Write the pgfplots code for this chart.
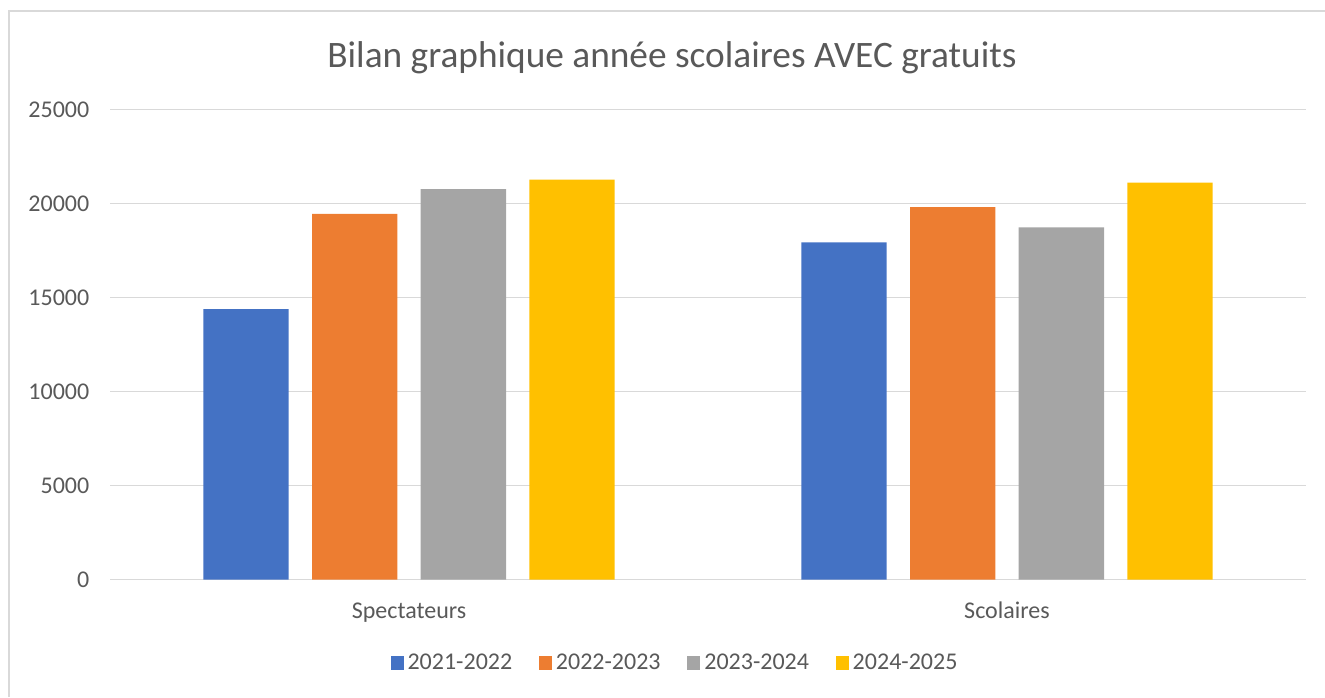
\documentclass[border=0pt]{standalone}
\usepackage{pgfplots}
\pgfplotsset{compat=1.18}
\usepackage{fontspec}
\setmainfont{Carlito}
\definecolor{cblue}{HTML}{4472C4}
\definecolor{corange}{HTML}{ED7D31}
\definecolor{cgray}{HTML}{A5A5A5}
\definecolor{cyellow}{HTML}{FFC000}
\definecolor{ctext}{HTML}{595959}
\definecolor{cgrid}{HTML}{D9D9D9}
\begin{document}
\begin{tikzpicture}
\path[use as bounding box] (0,0) rectangle (993.75pt,522.75pt);
\draw[cgrid, line width=1.1pt] (6.75pt,0pt) -- (6.75pt,514.5pt) -- (993.75pt,514.5pt);
\begin{axis}[
  at={(82.5pt,88.125pt)}, anchor=south west,
  scale only axis, width=897pt, height=352.5pt,
  xmin=-0.5, xmax=1.5, ymin=0, ymax=25000,
  xtick={0,1}, xticklabels={Spectateurs,Scolaires},
  ytick={0,5000,10000,15000,20000,25000},
  major tick length=0pt,
  axis line style={draw=none},
  ymajorgrids, grid style={cgrid, line width=1.1pt},
  ybar=17.5pt, bar width=64pt,
  /pgf/number format/assume math mode=true,
  /pgf/number format/set thousands separator={},
  scaled y ticks=false,
  tick label style={font=\fontsize{18pt}{21pt}\selectfont, text=ctext},
  yticklabel style={xshift=-12pt},
  xticklabel style={anchor=base, yshift=-29pt},
  title={Bilan graphique année scolaires AVEC gratuits},
  title style={font=\fontsize{28pt}{33pt}\selectfont, text=ctext, at={(0.4699,1.072)}, anchor=base},
  legend columns=4,
  legend style={draw=none, at={(0.4732,-0.1777)}, anchor=center,
    font=\fontsize{18pt}{21pt}\selectfont, text=ctext,
    /tikz/every even column/.append style={column sep=17pt},
    nodes={inner sep=3pt}},
  legend image code/.code={\fill[#1,draw=none] (0pt,-4.9pt) rectangle (9.8pt,4.9pt);},
]
\addplot[fill=cblue, draw=none] coordinates {(0,14381) (1,17927)};
\addplot[fill=corange, draw=none] coordinates {(0,19447) (1,19803)};
\addplot[fill=cgray, draw=none] coordinates {(0,20760) (1,18724)};
\addplot[fill=cyellow, draw=none] coordinates {(0,21276) (1,21117)};
\legend{2021-2022,2022-2023,2023-2024,2024-2025}
\end{axis}
\end{tikzpicture}
\end{document}
